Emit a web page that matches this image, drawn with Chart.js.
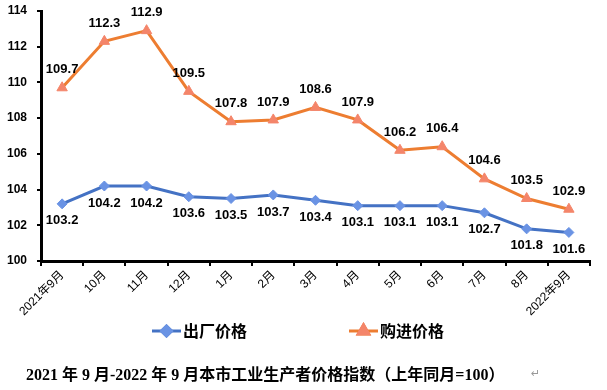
<!DOCTYPE html>
<html>
<head>
<meta charset="utf-8">
<script src="https://cdn.jsdelivr.net/npm/chart.js@4"></script>
<style>
  body { margin: 0; background: #fff; }
  #wrap { position: relative; width: 607px; height: 390px; }
  #titulo {
    position: absolute; left: 26px; top: 361px;
    font: bold 16px "Liberation Serif", "Noto Sans CJK SC", serif;
    color: #000; white-space: nowrap;
  }
  #retorno { position: absolute; left: 531px; top: 367px; font: 11px "DejaVu Sans", sans-serif; color: #999; }
</style>
</head>
<body>
<div id="wrap">
  <canvas id="grafico" width="607" height="390"></canvas>
  <div id="titulo">2021 年 9 月-2022 年 9 月本市工业生产者价格指数（上年同月=100）</div>
  <div id="retorno">↵</div>
</div>
<script>
// meses do eixo x
const meses = ['2021年9月', '10月', '11月', '12月', '1月', '2月', '3月', '4月', '5月', '6月', '7月', '8月', '2022年9月'];
// séries
const precoSaida = [103.2, 104.2, 104.2, 103.6, 103.5, 103.7, 103.4, 103.1, 103.1, 103.1, 102.7, 101.8, 101.6];
const precoCompra = [109.7, 112.3, 112.9, 109.5, 107.8, 107.9, 108.6, 107.9, 106.2, 106.4, 104.6, 103.5, 102.9];
const nomesSeries = ['出厂价格', '购进价格'];

const fonteBase = '"Liberation Sans", "Noto Sans CJK SC", sans-serif';

// rótulos de dados: azul abaixo, laranja acima
const pluginRotulos = {
    id: 'rotulos',
    afterDatasetsDraw(chart) {
        const ctx = chart.ctx;
        ctx.save();
        ctx.font = 'bold 13px ' + fonteBase;
        ctx.fillStyle = '#000';
        ctx.textAlign = 'center';
        ctx.textBaseline = 'middle';
        chart.data.datasets.forEach((ds, i) => {
            const meta = chart.getDatasetMeta(i);
            meta.data.forEach((pt, j) => {
                const dy = i === 0 ? 17 : -18;
                ctx.fillText(ds.data[j].toFixed(1), pt.x, pt.y + dy);
            });
        });
        ctx.restore();
    }
};

// legenda estilo Excel (linha + marcador)
const pluginLegenda = {
    id: 'legendaExcel',
    afterDraw(chart) {
        const ctx = chart.ctx;
        const y = 331;
        const itens = [{ x: 152 }, { x: 349 }];
        ctx.save();
        chart.data.datasets.forEach((ds, i) => {
            const x0 = itens[i].x;
            ctx.strokeStyle = ds.borderColor;
            ctx.lineWidth = 3;
            ctx.beginPath();
            ctx.moveTo(x0, y);
            ctx.lineTo(x0 + 29, y);
            ctx.stroke();
            Chart.helpers.drawPoint(ctx, {
                pointStyle: ds.pointStyle,
                radius: ds.pointRadius,
                rotation: 0,
                borderWidth: 1
            }, x0 + 14.5, y);
            ctx.fillStyle = ds.pointBackgroundColor;
            ctx.strokeStyle = ds.pointBorderColor;
            ctx.fill();
            ctx.stroke();
            ctx.fillStyle = '#000';
            ctx.font = 'bold 16px "Noto Sans CJK SC", sans-serif';
            ctx.textAlign = 'left';
            ctx.textBaseline = 'middle';
            ctx.fillText(ds.label, x0 + 31, y);
        });
        ctx.restore();
    }
};

new Chart(document.getElementById('grafico').getContext('2d'), {
    type: 'line',
    data: {
        labels: meses,
        datasets: [{
            label: nomesSeries[0],
            data: precoSaida,
            borderColor: '#4472C4',
            borderWidth: 3,
            pointStyle: 'rectRot',
            pointRadius: 5,
            pointBackgroundColor: '#6A93E4',
            pointBorderColor: '#6A93E4',
            pointBorderWidth: 1,
            tension: 0
        }, {
            label: nomesSeries[1],
            data: precoCompra,
            borderColor: '#ED7D31',
            borderWidth: 3,
            pointStyle: 'triangle',
            pointRadius: 6,
            pointBackgroundColor: '#F4856A',
            pointBorderColor: '#F4856A',
            pointBorderWidth: 1,
            tension: 0
        }]
    },
    options: {
        responsive: false,
        animation: false,
        layout: { padding: { top: 11, right: 17, left: 0, bottom: 0 } },
        plugins: { legend: { display: false }, tooltip: { enabled: false } },
        scales: {
            x: {
                offset: true,
                grid: { display: true, drawOnChartArea: false, drawTicks: true, tickLength: 5, color: '#000', lineWidth: 2, offset: true },
                border: { color: '#000', width: 3 },
                ticks: { color: '#000', font: { size: 12, family: fonteBase }, minRotation: 45, maxRotation: 45, padding: 2 },
                afterFit(scale) { scale.height = 129; }
            },
            y: {
                min: 100,
                max: 114,
                grid: { display: true, drawOnChartArea: false, drawTicks: true, tickLength: 4, color: '#000', lineWidth: 2 },
                border: { color: '#000', width: 3 },
                ticks: { stepSize: 2, color: '#000', font: { size: 12, weight: 'bold', family: fonteBase }, padding: 10 },
                afterFit(scale) {
                    scale.width = 41;
                    scale.paddingTop = 6;
                    scale.paddingBottom = 6;
                }
            }
        }
    },
    plugins: [pluginRotulos, pluginLegenda]
});
</script>
</body>
</html>
